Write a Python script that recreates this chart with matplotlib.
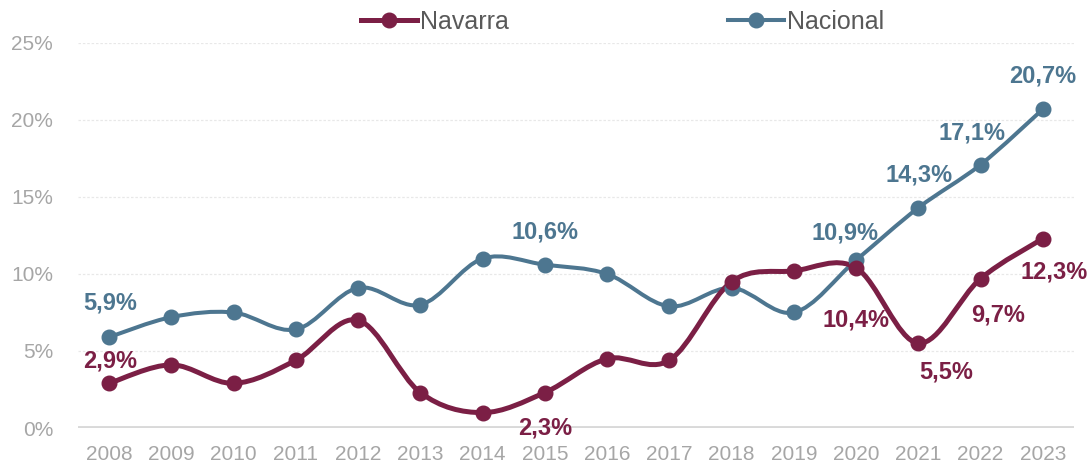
import matplotlib
matplotlib.use('Agg')
import matplotlib.pyplot as plt
from matplotlib.path import Path
from matplotlib.patches import PathPatch
from matplotlib.ticker import FuncFormatter
import numpy as np

FIGWIDTH = 10.91
FIGHEIGHT = 4.67

years = ['2008', '2009', '2010', '2011', '2012', '2013', '2014', '2015',
         '2016', '2017', '2018', '2019', '2020', '2021', '2022', '2023']
navarra = [2.9, 4.1, 2.9, 4.4, 7.0, 2.3, 1.0, 2.3, 4.5, 4.4, 9.5, 10.2, 10.4, 5.5, 9.7, 12.3]
nacional = [5.9, 7.2, 7.5, 6.4, 9.1, 8.0, 11.0, 10.6, 10.0, 7.9, 9.1, 7.5, 10.9, 14.3, 17.1, 20.7]

# which points get a value label, and the label offset in pixels
navarra_labels = {0: (1, 22), 7: (0, -35), 12: (0, -52), 13: (28, -29), 14: (17, -36), 15: (11, -33)}
nacional_labels = {0: (1, 34), 7: (0, 33), 12: (-11, 27), 13: (1, 33), 14: (-9, 32), 15: (0, 33)}

C_NAV = '#7B1F45'
C_NAC = '#4D7690'


def smooth_path (x, y):
  # bezier path through the points, like excel's smoothed line
  verts = [(x[0], y[0])]
  codes = [Path.MOVETO]
  n = len(x)
  for i in range(n - 1):
    x0, y0 = (x[i-1], y[i-1]) if i > 0 else (x[i], y[i])
    x3, y3 = (x[i+2], y[i+2]) if i + 2 < n else (x[i+1], y[i+1])
    c1 = (x[i] + (x[i+1] - x0) / 6.0, y[i] + (y[i+1] - y0) / 6.0)
    c2 = (x[i+1] - (x3 - x[i]) / 6.0, y[i+1] - (y3 - y[i]) / 6.0)
    verts += [c1, c2, (x[i+1], y[i+1])]
    codes += [Path.CURVE4] * 3
  return Path(verts, codes)


def draw_series (ax, x, y, color, lw, label, labels):
  ax.add_patch(PathPatch(smooth_path(x, y), facecolor='none', edgecolor=color,
                         lw=lw, capstyle='round', joinstyle='round', zorder=3))
  ax.plot(x, y, ls='none', marker='o', ms=10.5, color=color, zorder=4)
  ax.plot([], [], color=color, lw=lw, marker='o', ms=10.5, label=label)
  for i, (dx, dy) in labels.items():
    txt = '{:.1f}%'.format(y[i]).replace('.', ',')
    ax.annotate(txt, (x[i], y[i]), xytext=(dx, dy), textcoords='offset pixels',
                ha='center', va='center', fontsize=17, fontweight='bold',
                color=color, zorder=5)


if __name__ == '__main__':
  plt.rc('font', family=['Liberation Sans', 'DejaVu Sans'])
  fig = plt.figure(figsize=(FIGWIDTH, FIGHEIGHT), dpi=100)
  ax = fig.add_axes([0.0715, 0.0835, 0.9129, 0.8245])
  x = np.arange(len(years))

  draw_series(ax, x, nacional, C_NAC, 2.9, 'Nacional', nacional_labels)
  draw_series(ax, x, navarra, C_NAV, 3.6, 'Navarra', navarra_labels)

  ax.set_xlim(-0.5, len(years) - 0.5)
  ax.set_ylim(0, 25)
  ax.set_yticks([0, 5, 10, 15, 20, 25])
  ax.yaxis.set_major_formatter(FuncFormatter(lambda v, p: '{:.0f}%'.format(v)))
  ax.set_xticks(x)
  ax.set_xticklabels(years)
  ax.tick_params(axis='both', length=0, labelsize=15, labelcolor='#A6A6A6')
  ax.tick_params(axis='x', pad=12)
  ax.tick_params(axis='y', pad=18)
  for s in ax.spines.values():
    s.set_visible(False)
  ax.grid(axis='y', color='#E8E8E8', lw=0.9, ls=(0, (2, 1.5)))
  ax.axhline(0, color='#D9D9D9', lw=2.8, zorder=2)
  ax.set_axisbelow(True)

  h, l = ax.get_legend_handles_labels()
  order = [l.index('Navarra'), l.index('Nacional')]
  fig.legend([h[i] for i in order], [l[i] for i in order], loc='center',
             bbox_to_anchor=(0.5706, 0.953), ncol=2, frameon=False, fontsize=18,
             labelcolor='#595959', handlelength=2.24, handletextpad=0.12,
             columnspacing=8.76)

  fig.savefig('out.png', dpi=100)
  plt.close()
